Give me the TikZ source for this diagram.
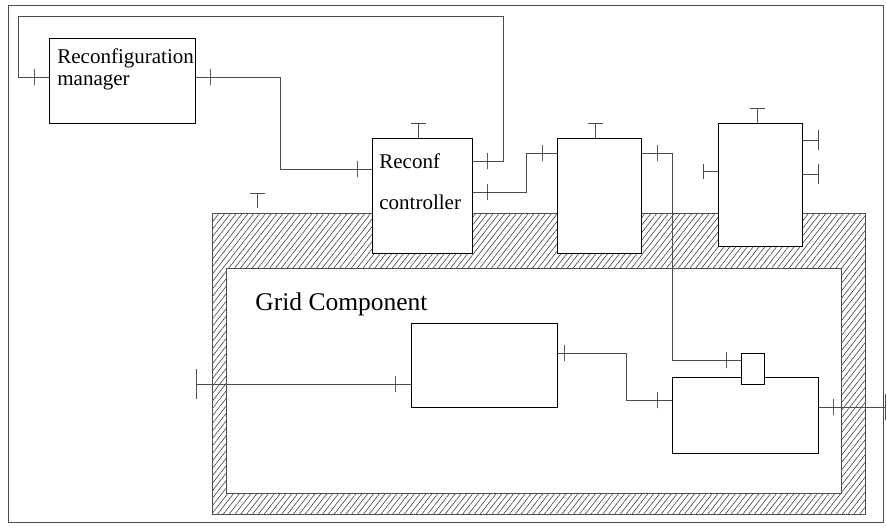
\documentclass[tikz,border=0pt]{standalone}
\usepackage{fontspec}
\setmainfont{Liberation Serif}
\usetikzlibrary{arrows.meta,patterns.meta}

\begin{document}
\begin{tikzpicture}[x=1pt, y=-1pt, line width=0.8pt,
  bx/.style={draw, fill=white, inner sep=0pt, anchor=north west},
  cn/.style={draw=black!70},
  tk/.style={draw, inner sep=0pt, minimum width=0pt, minimum height=16pt},
  tb/.style={draw=black!70, -{Bar[width=#1, line width=0.8pt]}}, tb/.default=15pt,
  lbl/.style={inner sep=0pt, align=left, anchor=north west}]
\useasboundingbox (0,0) rectangle (887,531);
\draw[black!70] (8,5) rectangle (883,522);
\fill[pattern={Lines[angle=52, distance=4.6pt, line width=0.6pt]}, pattern color=black!75, even odd rule]
  (212,213) rectangle (865,514) (226,268) rectangle (841,493);
\draw[black!70] (212,213) rectangle (865,514) (226,268) rectangle (841,493);
\node[bx, minimum width=146pt, minimum height=85pt] (mgr) at (49,38) {};
\node[bx, minimum width=100pt, minimum height=115pt] (ctl) at (372,138) {};
\node[bx, minimum width=84pt, minimum height=115pt] (b2) at (557,138) {};
\node[bx, minimum width=84pt, minimum height=123pt] (b3) at (718,123) {};
\node[bx, minimum width=146pt, minimum height=84pt] (core) at (411,323) {};
\node[bx, minimum width=146pt, minimum height=76pt] (out) at (672,377) {};
\node[bx, minimum width=23pt, minimum height=31pt] (sb) at (741,353) {};
\coordinate (in) at (196,384);
\coordinate (ex) at (886,407);
\coordinate (lt) at (257,208);
\draw[cn] (mgr.west |- 0,77) -- (18,77) -- (18,16) -- (503,16) -- (503,161) -- (ctl.east |- 0,161);
\draw[cn] (mgr.east |- 0,77) -- (280,77) -- (280,169) -- (ctl.west |- 0,169);
\draw[cn] (ctl.east |- 0,192) -- (526,192) -- (526,153) -- (b2.west |- 0,153);
\draw[cn] (b2.east |- 0,153) -- (672,153) -- (672,360) -- (sb.west |- 0,360);
\draw[cn] (core.east |- 0,353) -- (626,353) -- (626,400) -- (out.west |- 0,400);
\draw[tb=30pt] (core.west |- 0,384) -- (in);
\draw[tb=26pt] (out.east |- 0,407) -- (ex);
\draw[tb] (ctl.north -| 418,0) -- ++(0,-15);
\draw[tb] (b2.north -| 595,0) -- ++(0,-15);
\draw[tb] (b3.north -| 757,0) -- ++(0,-15);
\draw[tb] (b3.west |- 0,171) -- ++(-15,0);
\draw[tb=20pt] (b3.east |- 0,140) -- ++(16,0);
\draw[tb=20pt] (b3.east |- 0,174) -- ++(16,0);
\draw[tb] (lt) -- ++(0,-15);
\foreach \x/\y in {34/77, 487/161, 210/77, 357/169, 487/192, 542/153,
  657/153, 726/360, 564/353, 657/400, 395/384, 833/407}
  \node[tk] at (\x,\y) {};
\node[lbl, font=\fontsize{21}{22}\selectfont] (tm) at (57,48) {Reconfiguration\\manager};
\node[lbl, font=\fontsize{21}{41}\selectfont] (tc) at (379,153) {Reconf\\controller};
\node[inner sep=0pt, anchor=base west, font=\fontsize{25.5}{30}\selectfont] (tg) at (255,310) {Grid Component};
\end{tikzpicture}
\end{document}
